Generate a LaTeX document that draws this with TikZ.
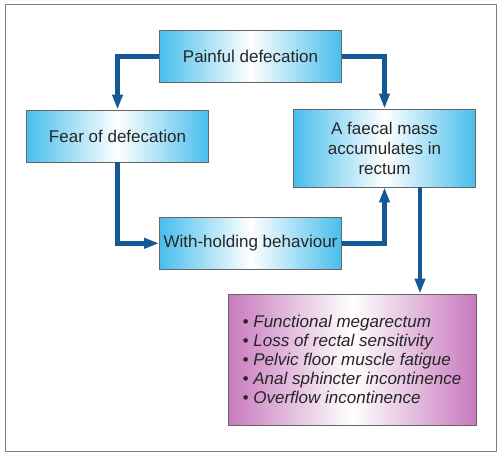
\documentclass[tikz,border=0pt]{standalone}
\usepackage{fontspec}
\setmainfont{Liberation Sans}
\usetikzlibrary{arrows.meta,positioning}
\definecolor{boxcyan}{RGB}{72,190,236}
\definecolor{boxpink}{RGB}{200,122,190}
\definecolor{flowblue}{RGB}{20,88,150}
\definecolor{framegray}{RGB}{125,125,130}
\tikzset{
  cause/.style={draw=black!60, line width=0.8pt, left color=boxcyan, right color=boxcyan, middle color=white, minimum width=182pt, minimum height=52pt, align=center, font=\fontsize{17}{20}\selectfont, text=black!85},
  effects/.style={draw=black!60, line width=0.8pt, left color=boxpink, right color=boxpink, middle color=white, minimum width=248pt, minimum height=131pt, align=left, font=\fontsize{17}{19}\selectfont\itshape, text=black!85},
  flow/.style={-{Triangle[length=15pt,width=10pt]}, line width=4.5pt, draw=flowblue}
}
\begin{document}
\begin{tikzpicture}[x=1pt, y=-1pt]
  \useasboundingbox (0,0) rectangle (500,455);
  \draw[framegray, line width=1pt] (5,4) rectangle (496,451);

  \node[cause] (pain) at (250.5,56.5) {Painful defecation};
  \node[cause] (fear) at (117.5,136) {Fear of defecation};
  \node[cause, minimum height=78pt] (mass) at (384.5,148) {A faecal mass\\accumulates in\\rectum};
  \node[cause, below=134pt of pain] (hold) {With-holding behaviour};
  \node[effects] (list) at (352,359.5) {%
    \textbullet\ Functional megarectum\\
    \textbullet\ Loss of rectal sensitivity\\
    \textbullet\ Pelvic floor muscle fatigue\\
    \textbullet\ Anal sphincter incontinence\\
    \textbullet\ Overflow incontinence};

  \draw[flow] (pain.west) -| (fear.north);
  \draw[flow] (pain.east) -| (mass.north);
  \draw[flow] (fear.south) |- (hold.west);
  \draw[flow] (hold.east) -| (mass.south);
  \draw[flow] ([xshift=35.5pt]mass.south) -- ([xshift=35.5pt]mass.south |- list.north);
\end{tikzpicture}
\end{document}
